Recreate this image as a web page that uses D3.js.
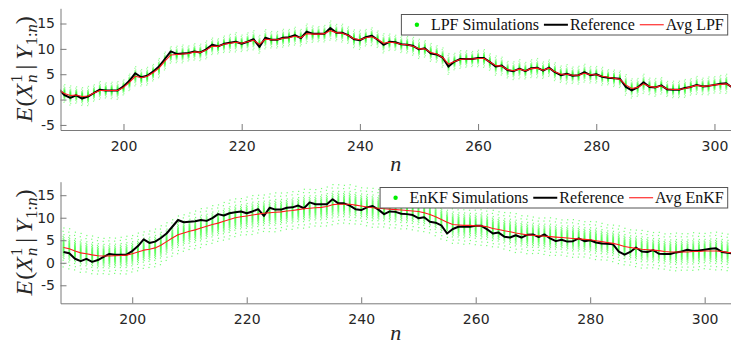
<!DOCTYPE html>
<html>
<head>
<meta charset="utf-8">
<script src="https://cdn.jsdelivr.net/npm/d3@7"></script>
<style>
  body { margin: 0; background: #fff; }
  svg { display: block; }
</style>
</head>
<body>
<svg id="chart" width="731" height="345"></svg>
<script>
// Time indices n = 188 … 305
const steps = d3.range(188, 306);

// Reference trajectory E(X_n^1 | Y_1:n)
const reference = [
  2.4, 2.1, 0.9, 0.35, 0.85, 0.2, 0.6, 1.3, 1.95, 1.8,
  1.8, 1.8, 2.6, 3.7, 5.2, 4.4, 4.7, 5.5, 6.5, 8.0,
  9.5, 9.0, 9.1, 9.2, 9.5, 9.3, 9.9, 10.8, 10.5, 11.0,
  11.2, 11.4, 11.0, 11.4, 11.9, 10.4, 12.2, 11.8, 11.8, 12.2,
  12.3, 12.7, 12.1, 13.4, 13.0, 13.0, 13.0, 14.1, 13.2, 13.2,
  12.7, 11.9, 11.7, 12.3, 12.6, 11.8, 10.8, 11.4, 11.3, 10.9,
  10.8, 10.6, 9.9, 10.1, 9.1, 8.9, 8.3, 6.5, 7.5, 8.0,
  8.0, 8.0, 8.2, 8.2, 7.4, 6.5, 6.7, 5.8, 5.6, 6.1,
  5.6, 6.2, 6.3, 5.7, 6.3, 5.4, 4.8, 5.1, 4.7, 4.8,
  5.4, 4.8, 5.0, 4.5, 4.3, 4.2, 4.1, 2.5, 1.8, 2.4,
  3.4, 2.5, 2.4, 2.8, 2.0, 1.95, 1.95, 2.3, 2.5, 2.9,
  2.6, 2.7, 2.9, 3.1, 3.2, 2.4, 2.2, 2.1
];

// Average of the LPF runs
const avgLPF = [
  2.2, 1.9, 1.2, 0.8, 0.9, 0.6, 0.7, 1.3, 1.8, 1.8,
  1.8, 1.8, 2.4, 3.4, 4.6, 4.3, 4.6, 5.3, 6.2, 7.6,
  8.8, 8.9, 9.0, 9.1, 9.4, 9.3, 9.8, 10.5, 10.5, 10.9,
  11.1, 11.3, 11.1, 11.4, 11.7, 10.9, 11.9, 11.8, 11.8, 12.1,
  12.2, 12.5, 12.2, 13.0, 12.9, 12.9, 13.0, 13.6, 13.2, 13.1,
  12.7, 12.0, 11.8, 12.2, 12.4, 11.9, 11.1, 11.3, 11.2, 10.9,
  10.8, 10.5, 10.0, 10.0, 9.3, 9.0, 8.3, 7.0, 7.5, 7.9,
  8.0, 8.0, 8.1, 8.1, 7.4, 6.7, 6.6, 5.9, 5.7, 6.0,
  5.7, 6.1, 6.2, 5.8, 6.2, 5.5, 5.0, 5.0, 4.8, 4.8,
  5.2, 4.9, 4.9, 4.6, 4.4, 4.2, 4.0, 2.9, 2.2, 2.4,
  3.1, 2.6, 2.4, 2.7, 2.1, 2.0, 2.0, 2.2, 2.5, 2.8,
  2.6, 2.7, 2.9, 3.0, 3.1, 2.5, 2.3, 2.2
];

// Average of the EnKF runs
const avgEnKF = [
  3.4, 3.1, 2.6, 2.2, 2.0, 1.75, 1.55, 1.5, 1.5, 1.55,
  1.6, 1.7, 2.0, 2.4, 2.8, 3.0, 3.3, 3.9, 4.7, 5.5,
  6.2, 6.6, 7.0, 7.3, 7.7, 8.1, 8.5, 8.8, 9.2, 9.6,
  10.0, 10.2, 10.4, 10.6, 10.8, 11.0, 11.1, 11.2, 11.3, 11.5,
  11.6, 11.8, 12.0, 12.1, 12.2, 12.3, 12.5, 12.9, 13.0, 13.0,
  13.0, 12.8, 12.6, 12.4, 12.2, 12.1, 12.0, 11.9, 11.8, 11.7,
  11.6, 11.5, 11.4, 11.1, 10.7, 10.2, 9.6, 9.0, 8.5, 8.4,
  8.3, 8.3, 8.2, 8.2, 8.0, 7.6, 7.4, 7.1, 6.9, 6.6,
  6.4, 6.2, 6.1, 6.0, 5.9, 5.8, 5.7, 5.6, 5.5, 5.4,
  5.3, 5.2, 5.1, 4.9, 4.7, 4.5, 4.3, 4.0, 3.6, 3.4,
  3.2, 3.0, 2.9, 2.8, 2.7, 2.5, 2.4, 2.4, 2.4, 2.4,
  2.5, 2.5, 2.6, 2.6, 2.6, 2.5, 2.3, 2.2
];

// Standard deviation of the simulated runs at each step
const lpfSpread = [
  0.7, 0.7, 0.65, 0.7, 0.6, 0.65, 0.7, 0.6, 0.65, 0.55,
  0.6, 0.65, 0.55, 0.6, 0.7, 0.6, 0.65, 0.6, 0.7, 0.65,
  0.6, 0.6, 0.65, 0.55, 0.6, 0.6, 0.65, 0.6, 0.55, 0.6,
  0.65, 0.7, 0.6, 0.65, 0.7, 0.65, 0.7, 0.6, 0.6, 0.65,
  0.6, 0.65, 0.6, 0.7, 0.6, 0.55, 0.6, 0.7, 0.6, 0.65,
  0.6, 0.65, 0.7, 0.6, 0.65, 0.6, 0.7, 0.6, 0.55, 0.6,
  0.6, 0.65, 0.7, 0.6, 0.65, 0.6, 0.7, 0.75, 0.6, 0.65,
  0.6, 0.55, 0.6, 0.65, 0.6, 0.7, 0.65, 0.6, 0.65, 0.7,
  0.6, 0.65, 0.7, 0.6, 0.6, 0.65, 0.6, 0.7, 0.6, 0.65,
  0.65, 0.6, 0.6, 0.65, 0.55, 0.6, 0.6, 0.75, 0.7, 0.65,
  0.7, 0.6, 0.65, 0.6, 0.55, 0.6, 0.6, 0.65, 0.6, 0.65,
  0.6, 0.65, 0.6, 0.65, 0.7, 0.65, 0.6, 0.6
];
const enkfSpread = [
  1.6, 1.65, 1.55, 1.6, 1.5, 1.55, 1.5, 1.45, 1.5, 1.45,
  1.5, 1.55, 1.5, 1.55, 1.5, 1.5, 1.55, 1.6, 1.55, 1.5,
  1.55, 1.5, 1.5, 1.55, 1.6, 1.5, 1.55, 1.5, 1.55, 1.6,
  1.55, 1.5, 1.55, 1.6, 1.55, 1.5, 1.55, 1.6, 1.55, 1.5,
  1.55, 1.5, 1.6, 1.55, 1.5, 1.55, 1.6, 1.65, 1.6, 1.55,
  1.6, 1.55, 1.5, 1.55, 1.6, 1.55, 1.5, 1.55, 1.5, 1.55,
  1.5, 1.55, 1.6, 1.55, 1.5, 1.55, 1.6, 1.5, 1.55, 1.5,
  1.55, 1.5, 1.55, 1.6, 1.55, 1.5, 1.45, 1.5, 1.55, 1.6,
  1.5, 1.55, 1.5, 1.45, 1.5, 1.55, 1.5, 1.45, 1.5, 1.55,
  1.5, 1.45, 1.5, 1.55, 1.5, 1.45, 1.5, 1.55, 1.5, 1.45,
  1.5, 1.55, 1.5, 1.45, 1.5, 1.45, 1.5, 1.55, 1.5, 1.5,
  1.55, 1.5, 1.45, 1.5, 1.55, 1.5, 1.5, 1.5
];

// Standardised positions of the individual runs within a step
const ensembleOffsets = [
  -2.7, -2.24, -1.78, -1.53, -1.36, -1.21, -1.09, -0.98, -0.89, -0.8, -0.71,
  -0.64, -0.56, -0.49, -0.42, -0.35, -0.29, -0.22, -0.16, -0.09, -0.03,
  0.03, 0.09, 0.16, 0.22, 0.29, 0.35, 0.42, 0.49, 0.56, 0.64,
  0.71, 0.8, 0.89, 0.98, 1.09, 1.21, 1.36, 1.53, 1.78, 2.24, 2.7
];

const xTicks = [200, 220, 240, 260, 280, 300];
const yTicks = [-5, 0, 5, 10, 15];

const svg = d3.select("#chart");
const left = 60.5, right = 731;
const axisColor = "#7a7a7a", textColor = "#262626";
const serif = "'Liberation Serif', 'DejaVu Serif', serif";
const sans = "'DejaVu Sans', sans-serif";

const panels = [
  { id: "lpf", top: 8.3, bottom: 130, xDomain: [189.34, 302.8], yDomain: [-6, 18],
    avg: avgLPF, spread: lpfSpread, simLabel: "LPF Simulations", avgLabel: "Avg LPF",
    dotOpacity: 0.45, legendTop: 14.5, legendHeight: 20.5, nBaseline: 171 },
  { id: "enkf", top: 181.7, bottom: 303.3, xDomain: [187.47, 304.6], yDomain: [-9, 18],
    avg: avgEnKF, spread: enkfSpread, simLabel: "EnKF Simulations", avgLabel: "Avg EnKF",
    dotOpacity: 0.6, legendTop: 187.5, legendHeight: 20.5, nBaseline: 340 }
];

function mathLabel(cx, cy) {
  // E(X_n^1 | Y_{1:n}) laid out piece by piece, then rotated
  const g = svg.append("g").attr("transform", `translate(${cx},${cy}) rotate(-90)`);
  const inner = g.append("g");
  const big = 24, small = 16.5;
  const pieces = [
    [{ s: "E", it: true, size: big, dy: 0 }],
    [{ s: "(", it: false, size: big, dy: 0 }],
    [{ s: "X", it: true, size: big, dy: 0 }],
    [{ s: "1", it: false, size: small, dy: -10 }, { s: "n", it: true, size: small, dy: 5 }],
    [{ s: "|", it: false, size: big, dy: 0, padL: 5, padR: 5 }],
    [{ s: "Y", it: true, size: big, dy: 0 }],
    [{ s: "1:", it: false, size: small, dy: 5 }],
    [{ s: "n", it: true, size: small, dy: 5 }],
    [{ s: ")", it: false, size: big, dy: 0 }]
  ];
  let x = 0;
  pieces.forEach(stack => {
    let adv = 0;
    const padL = stack[0].padL || 0, padR = stack[0].padR || 0;
    stack.forEach(p => {
      const t = inner.append("text")
        .attr("x", x + padL).attr("y", p.dy)
        .attr("font-family", serif)
        .attr("font-style", p.it ? "italic" : "normal")
        .attr("font-size", p.size)
        .attr("fill", textColor)
        .text(p.s);
      adv = Math.max(adv, t.node().getComputedTextLength());
    });
    x += padL + adv + padR + (stack[0].it && stack[0].size === big ? 1 : 0);
  });
  inner.attr("transform", `translate(${-x / 2},0)`);
}

panels.forEach(p => {
  const x = d3.scaleLinear().domain(p.xDomain).range([left, right]);
  const y = d3.scaleLinear().domain(p.yDomain).range([p.bottom, p.top]);

  const clipId = "clip-" + p.id;
  svg.append("clipPath").attr("id", clipId)
    .append("rect").attr("x", left).attr("y", p.top)
    .attr("width", right - left).attr("height", p.bottom - p.top);

  const plot = svg.append("g").attr("clip-path", `url(#${clipId})`);

  // simulated runs, one column of dots per step
  const dots = [];
  steps.forEach((n, i) => {
    ensembleOffsets.forEach((z, k) => {
      dots.push({ n, v: p.avg[i] + z * p.spread[i], k });
    });
  });
  plot.append("g").selectAll("rect").data(dots).join("rect")
    .attr("x", d => x(d.n) - 0.6 + ((d.k % 2) * 2 - 1) * 0.4)
    .attr("y", d => y(d.v) - 0.6)
    .attr("width", 1.2).attr("height", 1.2)
    .attr("fill", "#1aff1a")
    .attr("fill-opacity", p.dotOpacity);

  const line = d3.line().x((d, i) => x(steps[i])).y(d => y(d));

  plot.append("path").datum(reference)
    .attr("d", line).attr("fill", "none")
    .attr("stroke", "#000").attr("stroke-width", 2).attr("stroke-linejoin", "round");

  plot.append("path").datum(p.avg)
    .attr("d", line).attr("fill", "none")
    .attr("stroke", "#ff1a1a").attr("stroke-width", 1.1).attr("stroke-linejoin", "round");

  // axes with inward ticks
  const xa = svg.append("g").attr("transform", `translate(0,${p.bottom})`)
    .call(d3.axisBottom(x).tickValues(xTicks).tickSizeInner(-6).tickSizeOuter(0));
  xa.selectAll("text").attr("y", 20.5).attr("dy", null);
  const ya = svg.append("g").attr("transform", `translate(${left},0)`)
    .call(d3.axisLeft(y).tickValues(yTicks).tickSizeInner(-6).tickSizeOuter(0).tickPadding(5.5));
  [xa, ya].forEach(a => {
    a.select(".domain").attr("stroke", axisColor);
    a.selectAll(".tick line").attr("stroke", axisColor);
    a.selectAll("text").attr("fill", textColor)
      .attr("font-family", sans).attr("font-size", 14);
  });
  ya.selectAll("text").text(d => d < 0 ? "-" + Math.abs(d) : d);

  // axis titles
  svg.append("text").attr("x", (left + right) / 2).attr("y", p.nBaseline)
    .attr("text-anchor", "middle").attr("font-family", serif)
    .attr("font-style", "italic").attr("font-size", 22).attr("fill", textColor)
    .text("n");
  mathLabel(32, (p.top + p.bottom) / 2);

  // legend, right-aligned
  const lg = svg.append("g");
  const box = lg.append("rect").attr("fill", "#fff").attr("stroke", "#555").attr("stroke-width", 1);
  const items = [
    { kind: "dot", label: p.simLabel },
    { kind: "line", color: "#000", width: 2, label: "Reference" },
    { kind: "line", color: "#ff1a1a", width: 1.1, label: p.avgLabel }
  ];
  const cy = p.legendTop + p.legendHeight / 2;
  let cx = 4;
  items.forEach((it, i) => {
    if (it.kind === "dot") {
      lg.append("circle").attr("cx", cx + 12).attr("cy", cy).attr("r", 2.2).attr("fill", "#00ee00");
    } else {
      lg.append("line").attr("x1", cx).attr("x2", cx + 24).attr("y1", cy).attr("y2", cy)
        .attr("stroke", it.color).attr("stroke-width", it.width);
    }
    const t = lg.append("text").attr("x", cx + 26).attr("y", cy + 5)
      .attr("font-family", serif).attr("font-size", 16).attr("fill", "#111")
      .text(it.label);
    cx += 26 + t.node().getComputedTextLength() + (i < items.length - 1 ? 5 : 3.5);
  });
  box.attr("x", 0.5).attr("y", p.legendTop).attr("width", cx).attr("height", p.legendHeight);
  lg.attr("transform", `translate(${727.7 - cx - 0.5},0)`);
});
</script>
</body>
</html>
